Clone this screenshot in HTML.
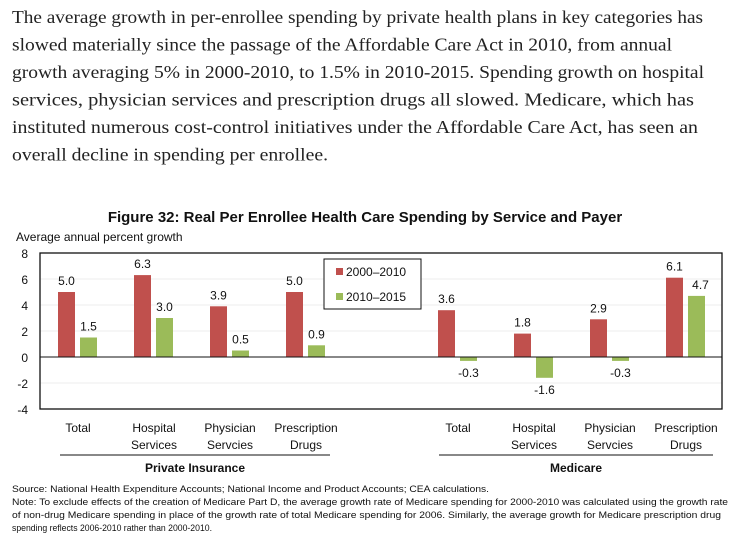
<!DOCTYPE html>
<html><head><meta charset="utf-8"><style>
body{margin:0;background:#fff;width:742px;height:547px;overflow:hidden}
svg{position:absolute;left:0;top:0}
</style></head><body>
<svg id="chart" width="742" height="547" font-family="Liberation Sans, sans-serif"></svg>
<script>
const categories=["Total","Hospital|Services","Physician|Servcies","Prescription|Drugs","","Total","Hospital|Services","Physician|Servcies","Prescription|Drugs"];
const series2000=[5.0,6.3,3.9,5.0,null,3.6,1.8,2.9,6.1];
const series2010=[1.5,3.0,0.5,0.9,null,-0.3,-1.6,-0.3,4.7];
const yTicks=[8,6,4,2,0,-2,-4];
const NS="http://www.w3.org/2000/svg";
const svg=document.getElementById('chart');
const X0=40,X1=722,Y0=253,Y1=409;
function y(v){return Y0+(8-v)*(Y1-Y0)/12;}
function slotX(i){return 58+76*i;}
function mk(t,a,txt){const e=document.createElementNS(NS,t);for(const k in a)e.setAttribute(k,a[k]);if(txt!==undefined)e.textContent=txt;svg.appendChild(e);return e;}
let e;
const intro=[["The average growth in per-enrollee spending by private health plans in key categories has",691],
["slowed materially since the passage of the Affordable Care Act in 2010, from annual",660],
["growth averaging 5% in 2000-2010, to 1.5% in 2010-2015. Spending growth on hospital",692],
["services, physician services and prescription drugs all slowed. Medicare, which has",682],
["instituted numerous cost-control initiatives under the Affordable Care Act, has seen an",686],
["overall decline in spending per enrollee.",316]];
intro.forEach((l,i)=>{const t=mk('text',{x:12,y:23+i*27.5,'font-size':17.5,'font-family':'Liberation Serif, serif',fill:'#222',textLength:l[1],lengthAdjust:'spacingAndGlyphs'},l[0]);
 });
e=mk('text',{x:365,y:222,'text-anchor':'middle','font-size':15,'font-weight':'bold',fill:'#111'},'Figure 32: Real Per Enrollee Health Care Spending by Service and Payer');

e=mk('text',{x:16,y:241,'font-size':12,fill:'#111'},'Average annual percent growth');

yTicks.forEach(v=>{
 if(v!==0&&v!==8&&v!==-4){e=mk('line',{x1:X0,x2:X1,y1:y(v),y2:y(v),stroke:'#eee'});}
 e=mk('text',{x:28,y:y(v)+5,'text-anchor':'end','font-size':12,fill:'#111'},String(v));
 
});
e=mk('rect',{x:X0,y:Y0,width:X1-X0,height:Y1-Y0,fill:'none',stroke:'#111','stroke-width':1.3});

function bar(v,x,col,name,lblDx){
 const r=mk('rect',{x:x,y:Math.min(y(v),y(0)),width:17,height:Math.abs(y(v)-y(0)),fill:col});
 
 const ly=v>=0?y(v)-7:y(v)+16;
 const t=mk('text',{x:x+8.5+lblDx,y:ly,'text-anchor':'middle','font-size':12,fill:'#111'},v.toFixed(1));
 
}
categories.forEach((c,i)=>{
 if(series2000[i]===null)return;
 const x=slotX(i);
 bar(series2000[i],x,'#c0504d','bar-2000-2010',0);
 bar(series2010[i],x+22,'#9bbb59','bar-2010-2015',i===8?4:0);
 const parts=c.split('|');
 parts.forEach((p,j)=>{const t=mk('text',{x:x+20,y:432+j*17,'text-anchor':'middle','font-size':12,fill:'#111'},p);
  });
});
e=mk('line',{x1:X0,x2:X1,y1:y(0),y2:y(0),stroke:'#111'});

e=mk('line',{x1:60,x2:330,y1:455,y2:455,stroke:'#111'});
e=mk('line',{x1:439,x2:713,y1:455,y2:455,stroke:'#111'});
e=mk('text',{x:195,y:472,'text-anchor':'middle','font-size':12,'font-weight':'bold',fill:'#111'},'Private Insurance');
e=mk('text',{x:576,y:472,'text-anchor':'middle','font-size':12,'font-weight':'bold',fill:'#111'},'Medicare');
e=mk('rect',{x:324,y:259,width:97,height:50,fill:'#fff',stroke:'#111'});
e=mk('rect',{x:336,y:268,width:7,height:7,fill:'#c0504d'});
e=mk('text',{x:346,y:276,'font-size':12,fill:'#111'},'2000–2010');
e=mk('rect',{x:336,y:293,width:7,height:7,fill:'#9bbb59'});
e=mk('text',{x:346,y:301,'font-size':12,fill:'#111'},'2010–2015');
const notes=[["Source: National Health Expenditure Accounts; National Income and Product Accounts; CEA calculations.",477],
["Note: To exclude effects of the creation of Medicare Part D, the average growth rate of Medicare spending for 2000-2010 was calculated using the growth rate",716],
["of non-drug Medicare spending in place of the growth rate of total Medicare spending for 2006. Similarly, the average growth for Medicare prescription drug",709],
["spending reflects 2006-2010 rather than 2000-2010.",200]];
notes.forEach((n,i)=>{const t=mk('text',{x:12,y:492+i*13,'font-size':9.5,fill:'#111',textLength:n[1],lengthAdjust:'spacingAndGlyphs'},n[0]);
 });
</script>
</body></html>
